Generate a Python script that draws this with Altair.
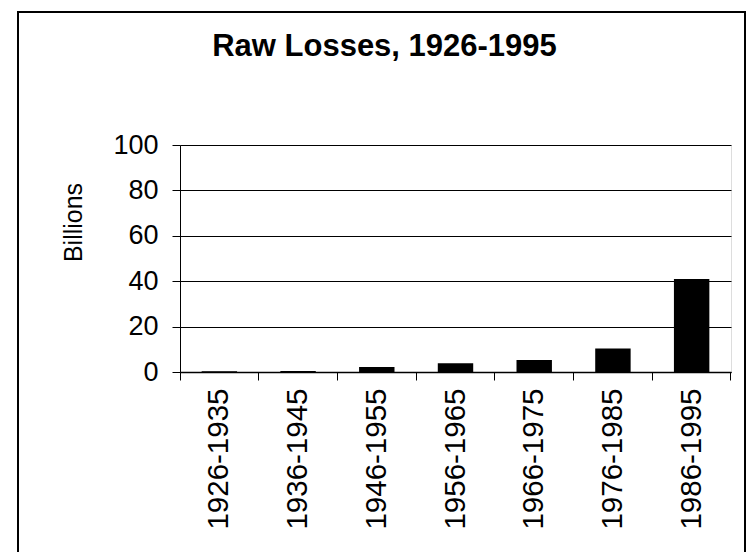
import altair as alt
import pandas as pd

periods = ["1926-1935", "1936-1945", "1946-1955", "1956-1965",
           "1966-1975", "1976-1985", "1986-1995"]
losses = [0.3, 0.4, 2.2, 3.8, 5.3, 10.4, 41.0]
y_ticks = [0, 20, 40, 60, 80, 100]

df = pd.DataFrame({"period": periods, "loss": losses})

FONT = "Liberation Sans"
W, H = 551, 227

xscale = alt.Scale(domain=periods, paddingInner=0, paddingOuter=0)
yscale = alt.Scale(domain=[0, 100], nice=False)

bars = alt.Chart(df).mark_bar(color="black", width=alt.RelativeBandSize(0.45)).encode(
    x=alt.X("period:N", scale=xscale, sort=periods, title=None,
            axis=alt.Axis(labelAngle=270, labelAlign="right", labelBaseline="middle",
                          labelFontSize=29.5, labelFont=FONT, labelColor="black",
                          labelPadding=8,
                          ticks=True, tickSize=8, tickColor="black",
                          bandPosition=1, tickExtra=True, domain=True,
                          domainColor="black", domainWidth=1.5, grid=False)),
    y=alt.Y("loss:Q", scale=yscale, title="Billions",
            axis=alt.Axis(values=y_ticks, labelFontSize=27, labelFont=FONT,
                          labelColor="black", labelPadding=14, tickSize=8,
                          tickColor="black", domainColor="black", grid=True,
                          gridColor="black", gridWidth=1, titleFont=FONT,
                          titleFontSize=25, titleFontWeight="normal",
                          titleColor="black", titleAngle=270, titleAlign="center",
                          titleBaseline="middle", titleX=-107, titleY=77)),
)

frame = alt.Chart(df).mark_rect(fill=None, stroke="black", strokeWidth=2).encode(
    x=alt.value(-162), x2=alt.value(565), y=alt.value(-133), y2=alt.value(408)
)

chart = alt.layer(frame, bars).properties(
    width=W, height=H,
    title=alt.TitleParams("Raw Losses, 1926-1995", font=FONT, fontSize=31,
                          fontWeight="bold", color="black", anchor="middle",
                          baseline="alphabetic", dx=-71, offset=-76),
    autosize=alt.AutoSizeParams(type="none"),
    padding={"left": 172, "top": 137, "right": 16, "bottom": 180},
).configure_view(stroke="black", strokeWidth=1.5).configure(background="white")

chart.save("out.html", embed_options={"renderer": "svg", "actions": False})
